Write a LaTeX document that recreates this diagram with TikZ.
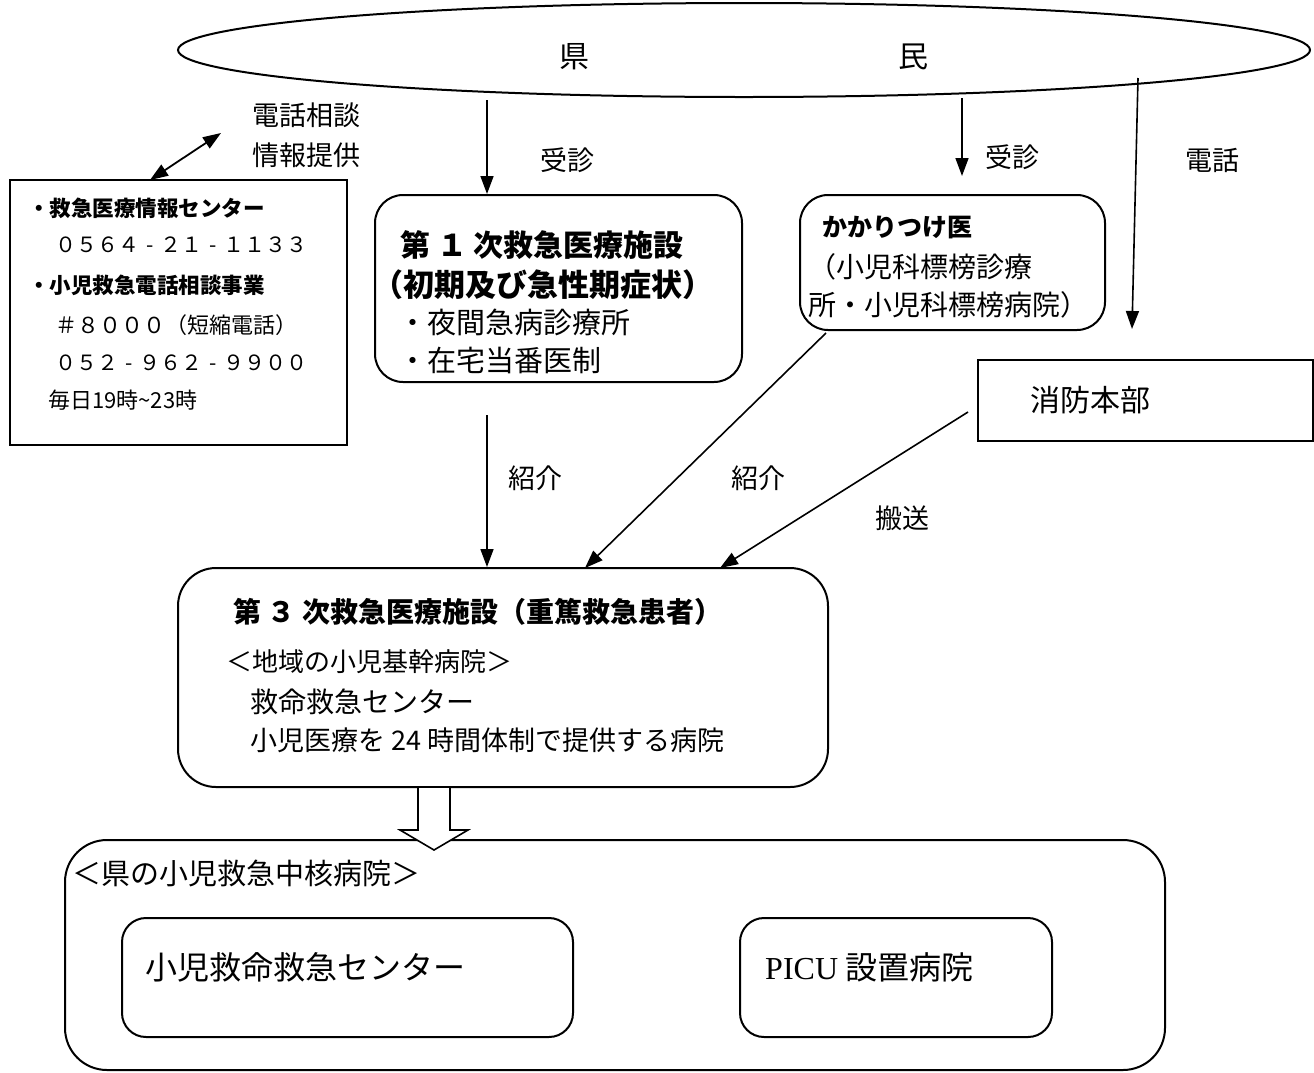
\documentclass[tikz,border=0pt]{standalone}
\usepackage{fontspec}
\setmainfont{Noto Sans CJK JP}
\newfontfamily\picufont{Liberation Serif}
\usetikzlibrary{shapes.geometric,arrows.meta}
\newcommand{\hy}{\makebox[1em]{-}}
\begin{document}
\begin{tikzpicture}[x=1pt,y=-1pt,
  rbox/.style={draw, line width=2pt, inner sep=0, rounded corners=#1},
  sbox/.style={draw, line width=1.6pt, inner sep=0},
  tx/.style={inner sep=0, anchor=west, font=\fontsize{#1}{#1}\selectfont},
  tbx/.style={inner sep=0, anchor=west, font=\fontsize{#1}{#1}\selectfont\bfseries},
  arr/.style={line width=1.6pt, -{Triangle[length=18pt,width=13pt]}},
  darr/.style={line width=1.8pt, {Triangle[length=18pt,width=13pt]}-{Triangle[length=18pt,width=13pt]}}
]
\useasboundingbox (0,0) rectangle (1314,1072);

% ellipse
\node[draw, ellipse, line width=2pt, minimum width=1132pt, minimum height=94pt, inner sep=0] (kenmin) at (744,50) {};
\node[tx=30] (ken) at (559,57) {県};
\node[tx=30] (min) at (898,57) {民};

% boxes
\node[sbox, minimum width=337pt, minimum height=265pt] (info) at (178.5,312.5) {};
\node[rbox=28pt, minimum width=367pt, minimum height=187pt] (p1) at (558.5,288.5) {};
\node[rbox=28pt, minimum width=305pt, minimum height=135pt] (kakari) at (952.5,262.5) {};
\node[sbox, minimum width=335pt, minimum height=81pt] (shobo) at (1145.5,400.5) {};
\node[rbox=38pt, minimum width=650pt, minimum height=219pt] (third) at (503,677.5) {};
\node[rbox=42pt, minimum width=1100pt, minimum height=230pt] (core) at (615,955) {};
\node[rbox=24pt, minimum width=451pt, minimum height=119pt] (picc) at (347.5,977.5) {};
\node[rbox=24pt, minimum width=312pt, minimum height=119pt] (picu) at (896,977.5) {};

% info box text
\node[tx=27] (l1) at (252,115) {電話相談};
\node[tx=27] (l2) at (252,155) {情報提供};
\node[tbx=21.5] (i1) at (28,208) {・救急医療情報センター};
\node[tx=21] (i2) at (55,245) {０５６４\hy ２１\hy １１３３};
\node[tbx=21.5] (i3) at (28,285) {・小児救急電話相談事業};
\node[tx=22] (i4) at (55,325) {＃８０００（短縮電話）};
\node[tx=21] (i5) at (55,363) {０５２\hy ９６２\hy ９９００};
\node[tx=22] (i6) at (48,400) {毎日19時\textasciitilde 23時};

% first box text
\node[tbx=30] (p1a) at (400,245) {第 １ 次救急医療施設};
\node[tbx=31] (p1b) at (372,285) {（初期及び急性期症状）};
\node[tx=29] (p1c) at (398,322) {・夜間急病診療所};
\node[tx=29] (p1d) at (398,360) {・在宅当番医制};

% kakaritsuke
\node[tbx=25] (k1) at (822,227) {かかりつけ医};
\node[tx=28] (k2) at (808,267) {（小児科標榜診療};
\node[tx=28] (k3) at (808,305) {所・小児科標榜病院）};

\node[tx=30] (s1) at (1030,400) {消防本部};

% third box text
\node[tbx=28] (t1) at (233,612) {第 ３ 次救急医療施設（重篤救急患者）};
\node[tx=26] (t2) at (226,662) {＜地域の小児基幹病院＞};
\node[tx=28] (t3) at (250,702) {救命救急センター};
\node[tx=27] (t4) at (250,740) {小児医療を 24 時間体制で提供する病院};

% core box text
\node[tx=29] (c1) at (72,873) {＜県の小児救急中核病院＞};
\node[tx=32] (c2) at (145,967) {小児救命救急センター};
\node[tx=32] (c3) at (765,967) {{\picufont PICU} 設置病院};

% labels
\node[tx=27] (j1) at (540,160) {受診};
\node[tx=27] (j2) at (985,157) {受診};
\node[tx=27] (tel) at (1185,160) {電話};
\node[tx=27] (s1l) at (508,478) {紹介};
\node[tx=27] (s2l) at (731,478) {紹介};
\node[tx=27] (hs) at (875,518) {搬送};

% connector end points
\coordinate (a1s) at (487,100);
\coordinate (a2s) at (962,98);
\coordinate (a2e) at (962,176);
\coordinate (tels) at (1138,78);
\coordinate (tele) at (1132,329);
\coordinate (dbot) at (150,180);
\coordinate (dtop) at (221,133);
\coordinate (b1s) at (487,415);
\coordinate (b2s) at (826,333);
\coordinate (b2e) at (585,568);
\coordinate (b3s) at (968,412);
\coordinate (b3e) at (720,568);

\draw[arr] (a1s) -- (a1s |- p1.north);
\draw[arr] (a2s) -- (a2e);
\draw[arr] (tels) -- (tele);
\draw[darr] (dbot) -- (dtop);
\draw[arr] (b1s) -- (b1s |- third.north);
\draw[arr] (b2s) -- (b2e);
\draw[arr] (b3s) -- (b3e);

% block arrow
\draw[line width=1.6pt, fill=white, line join=miter]
  (418,788) -- (418,830) -- (400,830) -- (434,850) -- (468,830) -- (450,830) -- (450,788);
\end{tikzpicture}
\end{document}
